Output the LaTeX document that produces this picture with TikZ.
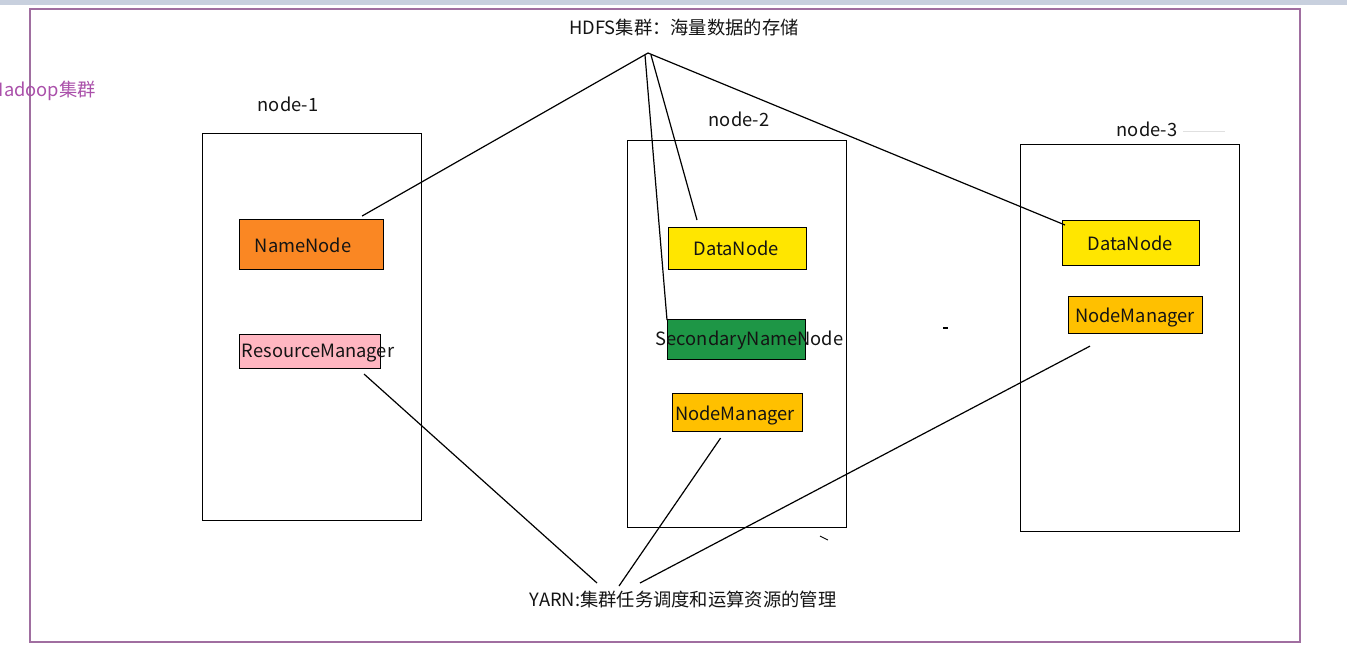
\documentclass[tikz,border=0pt]{standalone}
\usepackage{fontspec}
\setmainfont{Noto Sans CJK SC}
\usetikzlibrary{calc}
\definecolor{frame}{RGB}{160,110,160}
\definecolor{hadoop}{RGB}{170,80,170}
\definecolor{band}{RGB}{200,208,222}
\definecolor{nnfill}{RGB}{250,135,35}
\definecolor{rmfill}{RGB}{255,182,193}
\definecolor{dnfill}{RGB}{255,230,0}
\definecolor{snfill}{RGB}{30,150,70}
\definecolor{nmfill}{RGB}{255,192,0}
\definecolor{ink}{RGB}{20,20,20}
\tikzset{
  host/.style={draw=black, line width=1.3pt, anchor=north west, inner sep=0pt},
  svc/.style={draw=black, line width=1.1pt, anchor=north west, inner sep=0pt},
  txt/.style={font=\fontsize{18.3}{21}\selectfont, text=ink, inner sep=0pt},
  link/.style={draw=black, line width=1.2pt},
}
\begin{document}
\begin{tikzpicture}[x=1pt,y=-1pt]
\useasboundingbox (0,0) rectangle (1347,662);
\fill[white] (0,0) rectangle (1347,662);
\fill[band] (0,0) rectangle (1347,5);
% outer frame
\node[draw=frame, line width=1.6pt, anchor=north west, inner sep=0pt, minimum width=1270pt, minimum height=633pt] (cluster) at (29,8) {};
\node[txt, text=hadoop, anchor=east] (hl) at (96,91) {Hadoop集群};
% hosts
\node[host, minimum width=219pt, minimum height=387pt] (h1) at (202,133) {};
\node[host, minimum width=219pt, minimum height=387pt] (h2) at (627,140) {};
\node[host, minimum width=219pt, minimum height=387pt] (h3) at (1020,144) {};
\node[txt] (l1) at (288,104) {node-1};
\node[txt] (l2) at (739,119) {node-2};
\node[txt] (l3) at (1147,129) {node-3};
% services node-1
\node[svc, fill=nnfill, minimum width=144pt, minimum height=50pt] (nn) at (239,219) {};
\node[txt] at (303,245) {NameNode};
\node[svc, fill=rmfill, minimum width=141pt, minimum height=34pt] (rm) at (239,334) {};
\node[txt] at (318,353) {ResourceManager};
% services node-2
\node[svc, fill=dnfill, minimum width=138pt, minimum height=42pt] (dn2) at (668,227) {};
\node[txt] at (736,248) {DataNode};
\node[svc, fill=snfill, minimum width=138pt, minimum height=40pt] (sn) at (667,319) {};
\node[txt] at (749.5,340) {SecondaryNameNode};
\node[svc, fill=nmfill, minimum width=130pt, minimum height=38pt] (nm2) at (672,393) {};
\node[txt] at (735,415) {NodeManager};
% services node-3
\node[svc, fill=dnfill, minimum width=137pt, minimum height=45pt] (dn3) at (1062,220) {};
\node[txt] at (1130,243) {DataNode};
\node[svc, fill=nmfill, minimum width=134pt, minimum height=37pt] (nm3) at (1068,296) {};
\node[txt] at (1135,317) {NodeManager};
% titles
\node[txt] (hdfs) at (684,28) {HDFS集群：海量数据的存储};
\node[txt] (yarn) at (683,600) {YARN:集群任务调度和运算资源的管理};
% HDFS links
\coordinate (ha) at (648,53);
\coordinate (hb) at (645,55);
\coordinate (hc) at (651,55);
\draw[link] (ha) -- ($(nn.north east)+(-22,-3)$);
\draw[link] (hb) -- ($(sn.north west)+(0,1)$);
\draw[link] (hc) -- ($(dn2.north west)+(29,-7)$);
\draw[link] (ha) -- ($(dn3.north west)+(3,5)$);
% YARN links
\coordinate (ya) at (597,583);
\coordinate (yb) at (619,586);
\coordinate (yc) at (640,583);
\draw[link] ($(rm.south east)+(-17,5)$) -- (ya);
\draw[link] ($(nm2.south)+(-17,6)$) -- (yb);
\draw[link] ($(nm3.south west)+(22,12)$) -- (yc);
% stray marks
\draw[line width=1.6pt] (943,328) -- (948,328);
\draw[line width=0.9pt] (820,536) -- (828,540);
\draw[line width=0.8pt, black!12] (1183,131) -- (1225,131);
\end{tikzpicture}
\end{document}
